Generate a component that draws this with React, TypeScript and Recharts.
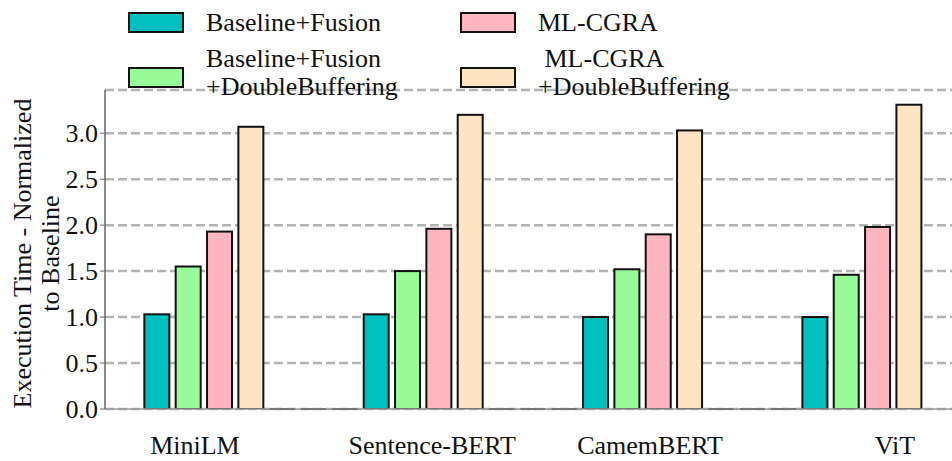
import React from 'react';
import { BarChart, Bar, XAxis, YAxis, CartesianGrid, Label } from 'recharts';

const models = ['MiniLM', 'Sentence-BERT', 'CamemBERT', 'ViT'];
const seriesNames = [
  ['Baseline+Fusion'],
  ['Baseline+Fusion', '+DoubleBuffering'],
  ['ML-CGRA'],
  [' ML-CGRA', '+DoubleBuffering'],
];
const baselineFusion = [1.03, 1.03, 1.0, 1.0];
const baselineFusionDB = [1.55, 1.5, 1.52, 1.46];
const mlCgra = [1.93, 1.96, 1.9, 1.98];
const mlCgraDB = [3.07, 3.2, 3.03, 3.31];
const yTicks = [0, 0.5, 1.0, 1.5, 2.0, 2.5, 3.0];

const seriesValues = [baselineFusion, baselineFusionDB, mlCgra, mlCgraDB];
const colors = ['#00bfbf', '#98fb98', '#ffb6c1', '#ffe4c4'];
const FONT = '"Liberation Serif", "Times New Roman", serif';

// each group: 4 bars, then 3 empty (zero) slots
const SLOTS = 7;
const rows: { pos: number; value: number; series: number }[] = [];
models.forEach((_, g) => {
  seriesValues.forEach((vals, s) => rows.push({ pos: g * SLOTS + s, value: vals[g], series: s }));
  if (g < models.length - 1) {
    for (let k = 4; k < SLOTS; k++) rows.push({ pos: g * SLOTS + k, value: 0, series: -1 });
  }
});
const slotTicks = rows.map((r) => r.pos);
const labelShift = [-0.29, 0.28, 0.235, 1.05];
const labelTicks = models.map((_, g) => g * SLOTS + 1.5 + labelShift[g]);

const BarShape = (props: any) => {
  const { x, y, width, height, payload } = props;
  if (payload.series < 0 || !height) return <g />;
  return (
    <rect x={x} y={y} width={width} height={height} fill={colors[payload.series]} stroke="#111" strokeWidth={2} />
  );
};

// zero-height bars still show their edge as a short black line
const ZeroEdge = (props: any) => {
  const { x, y, width, height, payload } = props;
  if (!payload || payload.series >= 0) return <g />;
  const yb = y + height;
  return <line x1={x} x2={x + width} y1={yb} y2={yb} stroke="#111" strokeWidth={2} />;
};

const YLabel = (props: any) => {
  const vb = props.viewBox || {};
  const cy = vb.y + vb.height / 2 + 4;
  return (
    <g fontFamily={FONT} fontSize={26} fill="#111">
      <text x={0} y={0} textAnchor="middle" dominantBaseline="central" transform={`translate(22,${cy}) rotate(-90)`}>
        Execution Time - Normalized
      </text>
      <text x={0} y={0} textAnchor="middle" dominantBaseline="central" transform={`translate(50,${cy}) rotate(-90)`}>
        to Baseline
      </text>
    </g>
  );
};

const LegendBox = () => (
  <div style={{ position: 'absolute', left: 0, top: 0, fontFamily: FONT, fontSize: 26, color: '#111' }}>
    {seriesNames.map((lines, i) => {
      const left = i < 2 ? 128 : 460;
      const top = i % 2 === 0 ? 12 : 67;
      return (
        <div key={i}>
          <div
            style={{
              position: 'absolute',
              left,
              top,
              width: 52,
              height: 17,
              background: colors[i],
              border: '2px solid #111',
              boxSizing: 'content-box',
            }}
          />
          <div
            style={{
              position: 'absolute',
              left: left + 78,
              top: lines.length === 1 ? top + 11 : top + 6,
              transform: 'translateY(-50%)',
              whiteSpace: 'pre',
              lineHeight: '28px',
            }}
          >
            {lines.map((l, j) => (
              <div key={j}>{l}</div>
            ))}
          </div>
        </div>
      );
    })}
  </div>
);

export default function App() {
  return (
    <div style={{ position: 'absolute', left: 0, top: 0, width: 952, height: 461, background: '#fff' }}>
      <BarChart width={952} height={461} data={rows} margin={{ top: 90, right: 0, bottom: 0, left: 0 }}>
        <CartesianGrid horizontal vertical={false} stroke="#b3b3b3" strokeWidth={2.5} strokeDasharray="9 4" />
        <XAxis
          dataKey="pos"
          type="number"
          domain={[-1.66, 25.37]}
          ticks={slotTicks}
          allowDataOverflow
          tick={false}
          tickSize={4}
          height={10}
          stroke="#888"
          axisLine={{ stroke: '#999', strokeWidth: 1.5 }}
        />
        <XAxis
          xAxisId="labels"
          dataKey="pos"
          type="number"
          domain={[-1.66, 25.37]}
          ticks={labelTicks}
          allowDataOverflow
          axisLine={false}
          tickLine={false}
          height={42}
          tickMargin={11}
          interval={0}
          tickFormatter={(v: number) => models[labelTicks.indexOf(v)] ?? ''}
          tick={{ fontFamily: FONT, fontSize: 26, fill: '#111' }}
        />
        <YAxis
          type="number"
          domain={[0, 3.47]}
          ticks={yTicks}
          allowDataOverflow
          width={105}
          tickSize={5}
          tickMargin={2}
          interval={0}
          tickFormatter={(v: number) => v.toFixed(1)}
          tick={{ fontFamily: FONT, fontSize: 26, fill: '#111' }}
          stroke="#666"
          axisLine={{ stroke: '#666', strokeWidth: 1.5 }}
        >
          <Label content={<YLabel />} />
        </YAxis>
        <Bar
          dataKey="value"
          barSize={25}
          shape={<BarShape />}
          background={<ZeroEdge />}
          isAnimationActive={false}
        />
      </BarChart>
      <LegendBox />
    </div>
  );
}
